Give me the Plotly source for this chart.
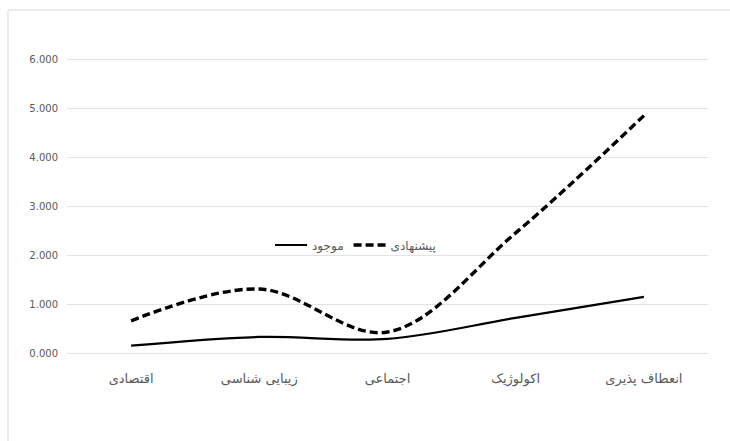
import plotly.graph_objects as go

categories = ["اقتصادی", "زیبایی شناسی", "اجتماعی", "اکولوژیک", "انعطاف پذیری"]
existing = [0.15, 0.33, 0.29, 0.72, 1.15]      # موجود
proposed = [0.66, 1.31, 0.43, 2.46, 4.86]      # پیشنهادی
y_ticks = [0, 1, 2, 3, 4, 5, 6]

W, H = 730, 441
L, R, T, B = 67, 22, 58, 86
pw, ph = W - L - R, H - T - B
pad = 0.04
unit = ph / (6 + 2 * pad)
y0px = H - B - pad * unit  # pixel of value 0

fig = go.Figure()
fig.add_trace(go.Scatter(
    x=categories, y=existing, name="موجود", mode="lines",
    line=dict(color="black", width=2.2, shape="spline", smoothing=1.0),
))
fig.add_trace(go.Scatter(
    x=categories, y=proposed, name="پیشنهادی", mode="lines",
    line=dict(color="black", width=3.4, dash="8px,4px", shape="spline", smoothing=1.0),
))

fig.update_layout(
    width=W, height=H,
    margin=dict(l=L, r=R, t=T, b=B),
    paper_bgcolor="white", plot_bgcolor="white",
    font=dict(family="DejaVu Sans, Noto Sans, sans-serif", color="#595959"),
    showlegend=True,
    legend=dict(
        orientation="h", x=(270 - L) / pw, y=(H - B - 245) / ph,
        xanchor="left", yanchor="middle",
        font=dict(size=12, color="#595959"),
        bgcolor="rgba(0,0,0,0)", itemwidth=32,
    ),
    xaxis=dict(
        type="category", range=[-0.5, 4.5],
        showgrid=False, zeroline=False, showline=False,
        ticks="", ticklabelstandoff=14,
        tickfont=dict(size=13, color="#595959"),
    ),
    yaxis=dict(
        range=[-pad, 6 + pad], tickvals=y_ticks, tickformat=".3f",
        showgrid=True, gridcolor="#e3e3e3", gridwidth=1,
        zeroline=False, showline=False, ticks="",
        ticklabelstandoff=8,
        tickfont=dict(size=10, color="#595959"),
    ),
    shapes=[dict(
        type="rect", xref="paper", yref="paper",
        x0=(8 - L) / pw, x1=(740 - L) / pw,
        y0=(H - B - 460) / ph, y1=(H - B - 10) / ph,
        line=dict(color="#d9d9d9", width=1), fillcolor="rgba(0,0,0,0)",
        layer="below",
    )],
)

fig.write_html("out.html")
